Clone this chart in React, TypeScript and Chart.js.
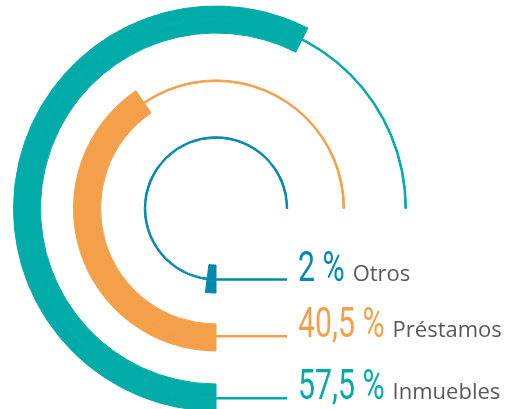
import React, { useEffect, useRef } from 'react';
import { Chart, registerables } from 'chart.js';

Chart.register(...registerables);

// ---- data ----
const categories = ['Inmuebles', 'Préstamos', 'Otros'];
const values = [57.5, 40.5, 2];
const colors = ['#00aba8', '#f4a04b', '#0088ae'];

// ---- layout (pixels) ----
// each ring: outer half of thick band, thin track line, inner half, then gap to next ring
const ringLayout = [
  { outer: 12, line: 1.6, inner: 13.4, gap: 33 },
  { outer: 13.9, line: 1.6, inner: 11.5, gap: 31 },
  { outer: 12.7, line: 1.6, inner: 13.7, gap: 0 },
];
const CUTOUT = 56.5;
const TRANSPARENT = 'rgba(0,0,0,0)';
const TEXT_GRAY = '#58595b';

const fmt = (v: number) => String(v).replace('.', ',') + ' %';

function buildDatasets() {
  const ds: any[] = [];
  const lineIndex: number[] = [];
  values.forEach((v, i) => {
    const c = colors[i];
    const L = ringLayout[i];
    const thick = (w: number) => ({
      data: [v, 100 - v],
      backgroundColor: [c, TRANSPARENT],
      borderColor: [c, TRANSPARENT],
      borderWidth: [1, 0],
      weight: w,
      rotation: 180,
      circumference: 360,
    });
    ds.push(thick(L.outer));
    lineIndex.push(ds.length);
    ds.push({
      data: [100],
      backgroundColor: [c],
      borderColor: [c],
      borderWidth: [1],
      weight: L.line,
      rotation: 180,
      circumference: 270,
    });
    ds.push(thick(L.inner));
    if (L.gap > 0) {
      ds.push({
        data: [1],
        backgroundColor: [TRANSPARENT],
        borderColor: [TRANSPARENT],
        borderWidth: [0],
        weight: L.gap,
        rotation: 180,
        circumference: 360,
      });
    }
  });
  return { ds, lineIndex };
}

export default function App() {
  const ref = useRef<HTMLCanvasElement | null>(null);

  useEffect(() => {
    if (!ref.current) return;
    const { ds, lineIndex } = buildDatasets();

    const labelPlugin = {
      id: 'radialLabels',
      afterDatasetsDraw(chart: any) {
        const ctx = chart.ctx as CanvasRenderingContext2D;
        categories.forEach((name, i) => {
          const arc = chart.getDatasetMeta(lineIndex[i]).data[0] as any;
          const p = arc.getProps(['x', 'y', 'innerRadius', 'outerRadius'], true);
          const r = (p.innerRadius + p.outerRadius) / 2;
          const ly = p.y + r;
          ctx.save();
          ctx.strokeStyle = colors[i];
          ctx.lineWidth = 2.5;
          ctx.beginPath();
          ctx.moveTo(p.x, ly);
          ctx.lineTo(p.x + 71, ly);
          ctx.stroke();
          ctx.restore();

          const numText = fmt(values[i]);
          const sx = 0.72;
          ctx.save();
          ctx.font = '400 42px Roboto';
          ctx.fillStyle = colors[i];
          ctx.textBaseline = 'alphabetic';
          ctx.textAlign = 'left';
          const w = ctx.measureText(numText).width * sx;
          ctx.translate(p.x + 82, ly + 1);
          ctx.scale(sx, 1);
          ctx.fillText(numText, 0, 0);
          ctx.restore();

          ctx.save();
          ctx.font = '22px "Open Sans"';
          ctx.fillStyle = TEXT_GRAY;
          ctx.textBaseline = 'alphabetic';
          ctx.textAlign = 'left';
          ctx.fillText(name, p.x + 82 + w + 8, ly + 1);
          ctx.restore();
        });
      },
    };

    const chart = new Chart(ref.current, {
      type: 'doughnut',
      data: { labels: ['valor', 'resto'], datasets: ds },
      options: {
        responsive: false,
        animation: false,
        devicePixelRatio: 1,
        events: [],
        cutout: CUTOUT,
        layout: { padding: { left: 13, top: 5.5, right: 101, bottom: 8.5 } },
        elements: { arc: { hoverOffset: 0, offset: 0, hoverBorderWidth: 0 } as any },
        plugins: {
          legend: { display: false },
          tooltip: { enabled: false },
          title: { display: false },
        },
      } as any,
      plugins: [labelPlugin],
    });
    return () => chart.destroy();
  }, []);

  return (
    <div
      style={{
        position: 'fixed',
        left: 0,
        top: 0,
        width: 520,
        height: 409,
        overflow: 'hidden',
        background: '#ffffff',
      }}
    >
      <canvas ref={ref} width={520} height={420} style={{ display: 'block' }} />
    </div>
  );
}
